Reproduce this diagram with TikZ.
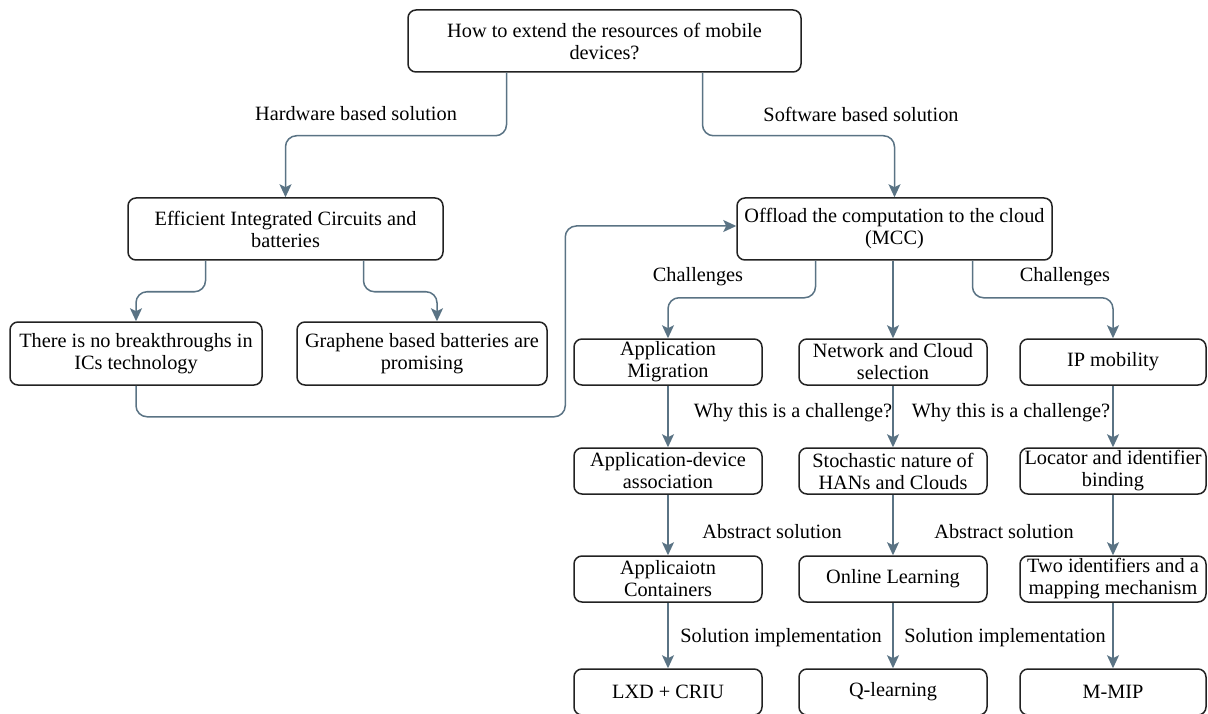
\documentclass[tikz,border=0pt]{standalone}
\usepackage{fontspec}
\setmainfont{Liberation Serif}
\usetikzlibrary{arrows.meta}
\definecolor{edgeblue}{HTML}{5A7384}
\definecolor{boxline}{HTML}{222222}
\begin{document}
\begin{tikzpicture}[x=1pt,y=-1pt,
  font=\fontsize{20.3}{22}\selectfont,
  box/.style={draw=boxline,line width=1.5pt,rounded corners=8pt,align=center,
    inner sep=0pt,text=black},
  wbox/.style={box,minimum width=188pt,minimum height=46pt},
  conn/.style={draw=edgeblue,line width=1.5pt,rounded corners=11pt,
    -{Stealth[length=13pt,width=12pt,inset=3pt]}},
  lbl/.style={inner sep=0pt,text=black}]
\useasboundingbox (0,0) rectangle (1208,714);

% top question
\node[box,minimum width=393pt,minimum height=62pt] (top) at (604.5,41)
  {How to extend the resources of mobile\\devices?};

% hardware side
\node[box,minimum width=315pt,minimum height=62pt] (eff) at (285.5,229)
  {Efficient Integrated Circuits and\\batteries};
\node[box,minimum width=252pt,minimum height=63pt] (nob) at (136,353.5)
  {There is no breakthroughs in\\ICs technology};
\node[box,minimum width=250pt,minimum height=63pt] (gra) at (422,353.5)
  {Graphene based batteries are\\promising};

% software side
\node[box,minimum width=315pt,minimum height=62pt] (off) at (894.5,229)
  {Offload the computation to the cloud\\(MCC)};

% challenge rows
\node[wbox] (am) at (668,362) {Application\\Migration};
\node[wbox] (nc) at (893,362) {Network and Cloud\\selection};
\node[wbox,minimum width=186pt] (ip) at (1113,362) {IP mobility};

\node[wbox] (ad) at (668,471) {Application-device\\association};
\node[wbox] (sn) at (893,471) {Stochastic nature of\\HANs and Clouds};
\node[wbox,minimum width=186pt] (lb) at (1113,471) {Locator and identifier\\binding};

\node[wbox] (ac) at (668,579) {Applicaiotn\\Containers};
\node[wbox] (ol) at (893,579) {Online Learning};
\node[wbox,minimum width=186pt] (tw) at (1113,579) {Two identifiers and a\\mapping mechanism};

\node[wbox] (lxd) at (668,692) {LXD + CRIU};
\node[wbox] (ql) at (893,692) {Q-learning};
\node[wbox,minimum width=186pt] (mm) at (1113,692) {M-MIP};

% connectors
\draw[conn] ([xshift=-98pt]top.south) -- ++(0,63) -| (eff.north);
\draw[conn] ([xshift=98pt]top.south) -- ++(0,63) -| (off.north);
\draw[conn] ([xshift=-80pt]eff.south) -- ++(0,31) -| (nob.north);
\draw[conn] ([xshift=78pt]eff.south) -- ++(0,31) -| ([xshift=15pt]gra.north);
\draw[conn] (nob.south) -- ++(0,31) -| ([xshift=-171pt,yshift=3pt]off.west)
  -- ([yshift=3pt]off.west);

\draw[conn] ([xshift=-79pt]off.south) -- ++(0,37) -| (am.north);
\draw[conn] (off.south -| nc.north) -- (nc.north);
\draw[conn] ([xshift=78pt]off.south) -- ++(0,37) -| (ip.north);

\foreach \a/\b in {am/ad,ad/ac,ac/lxd,nc/sn,sn/ol,ol/ql,ip/lb,lb/tw,tw/mm}
  \draw[conn] (\a.south) -- (\b.north);

% edge labels
\node[lbl] (l1) at (356,114) {Hardware based solution};
\node[lbl] (l2) at (861,114) {Software based solution};
\node[lbl] (l3) at (698,277) {Challenges};
\node[lbl] (l4) at (1065,277) {Challenges};
\node[lbl] (l5) at (793,413) {Why this is a challenge?};
\node[lbl] (l6) at (1011,413) {Why this is a challenge?};
\node[lbl] (l7) at (772,532) {Abstract solution};
\node[lbl] (l8) at (1004,532) {Abstract solution};
\node[lbl] (l9) at (781,638) {Solution implementation};
\node[lbl] (l10) at (1005,638) {Solution implementation};
\end{tikzpicture}
\end{document}
